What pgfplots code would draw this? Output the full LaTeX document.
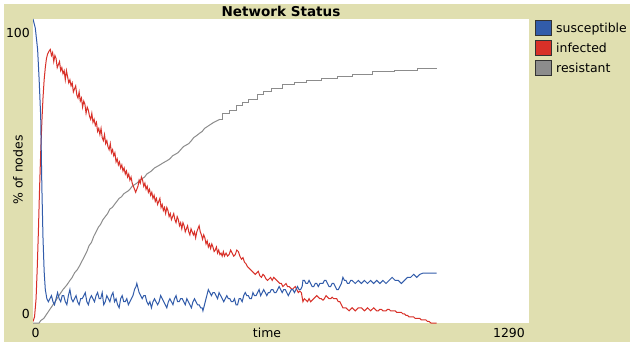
\documentclass[border=0pt]{standalone}
\usepackage{pgfplots}
\pgfplotsset{compat=1.18}
\usepackage{fontspec}
\setmainfont{DejaVu Sans}
\definecolor{bg}{RGB}{224,223,176}
\definecolor{sblue}{RGB}{50,92,170}
\definecolor{ired}{RGB}{216,48,40}
\definecolor{rgray}{RGB}{140,140,140}
\begin{document}
\begin{tikzpicture}[x=1bp,y=1bp]
\path[use as bounding box] (0,0) rectangle (630,342);
\fill[white] (0,0) rectangle (630,342);
\fill[bg] (4,0) rectangle (630,338);
\begin{axis}[at={(33bp,19bp)}, anchor=south west, scale only axis,
  width=496bp, height=304bp, xmin=0, xmax=1290, ymin=0, ymax=100,
  axis line style={draw=none}, ticks=none,
  axis background/.style={fill=white}]
\addplot[rgray, line width=1bp] coordinates {
(0,0) (16,0) (20,0.8) (28,1.5) (36,3) (44,4.5) (52,6) (60,7.5) (70,9.5) (78,11) (88,12.5) (96,14) (102,15) (108,16.5) (115,17.5) (122,19) (128,20.5) (134,22) (140,23.5) (146,25.5) (152,26.5) (158,28.5) (164,30) (170,31.5) (176,32.5) (182,34) (188,35) (194,36) (200,37.5) (206,38) (212,39) (218,40) (224,41) (230,41.5) (236,42.5) (242,43) (248,43.5) (252,44) (258,45) (264,45.5) (270,46) (278,47) (284,47.5) (290,48) (296,49) (302,49.5) (308,50) (316,51) (323,51.5) (330,52) (336,52.5) (343,53) (350,53.5) (356,54) (363,55) (370,55.5) (377,56) (384,57) (391,58) (398,58.5) (405,59) (412,60) (418,61) (424,61.5) (429,62) (434,62.5) (440,63) (446,64) (452,64.5) (458,65) (464,65.5) (470,66) (478,66.5) (486,67)
};
\addplot[rgray, line width=1bp, const plot] coordinates {
(486,67) (494,69) (510,70) (528,71.5) (546,72.5) (560,73.5) (583,75) (600,76) (620,77) (650,78.3) (680,79) (710,79.8) (750,80.4) (791,81) (830,81.8) (884,82.6) (940,83) (1000,83.6) (1050,83.6)
};
\addplot[ired, line width=1bp] coordinates {
(0,0.5) (4,2) (8,8) (11,18) (14,30) (17,44) (20,56) (23,66) (26,74) (29,80) (32,84) (35,87) (38,88.5) (42,89.5) (45,90) (48,88) (51,89) (54,86) (57,88) (60,87) (63,84) (66,85) (69,86) (72,83) (75,84) (78,82) (81,83) (84,80) (87,83) (90,81) (93,79) (96,80) (99,78) (102,79) (105,76) (108,77) (111,78) (114,75) (117,74) (120,76) (123,73) (126,74) (129,71) (132,73) (135,72) (138,69) (141,71) (144,70) (147,68) (150,67) (153,69) (156,66) (159,67) (162,65) (165,66) (168,63) (171,64) (174,62) (177,64) (180,61) (183,60) (186,62) (189,59) (192,60) (195,58) (198,57) (201,59) (204,56) (207,57) (210,55) (213,56) (216,53) (219,54) (222,52) (225,53) (228,51) (231,52) (234,50) (237,51) (240,49) (243,50) (246,48) (249,49) (252,47) (255,48) (258,46) (261,45) (264,44) (267,43) (270,44) (273,45) (276,47) (279,46) (282,48) (285,47) (288,45) (291,46) (294,44) (297,45) (300,43) (303,44) (306,42) (309,43) (312,41) (315,42) (318,40) (321,41) (324,39) (327,40) (330,41) (333,38) (336,39) (339,37) (342,38) (345,36) (348,38) (351,37) (354,35) (357,36) (360,34) (363,35) (366,36) (369,34) (372,33) (375,35) (378,34) (381,32) (384,33) (387,31) (390,33) (393,32) (396,30) (399,31) (402,32) (405,30) (408,29) (411,31) (414,30) (417,29) (420,30) (423,28) (426,30) (429,31) (432,32) (435,30) (438,29) (441,27.5) (444,29) (447,28) (450,26) (453,27) (456,25) (459,26) (462,24.5) (465,26) (468,25) (471,23.5) (474,24) (477,25) (480,23) (483,24) (486,22.5) (489,23) (492,22) (495,23.5) (498,22) (502,23) (506,22) (510,22.5) (514,24) (518,23) (522,22) (526,22.5) (530,24) (534,23.5) (538,22) (542,21) (546,21.5) (550,20) (554,19.5) (558,18.5) (562,18) (566,17.5) (570,17) (574,16.5) (578,16) (582,16.5) (586,17) (590,15.5) (594,15) (598,16) (602,15.5) (606,14.5) (610,14) (614,14.5) (618,15) (622,14) (626,15) (630,14.5) (634,14) (638,13.5) (642,13) (646,13) (650,12) (654,12.5) (658,13) (662,12) (666,12) (670,11.5) (674,11) (678,11.5) (682,12) (686,11) (690,10) (694,10.5) (698,10) (702,7) (706,8) (710,7.5) (714,7) (718,8) (722,7) (726,7.5) (730,8) (734,8.5) (738,9) (742,8.5) (746,8) (750,8) (754,7.5) (758,8) (762,9) (766,8.5) (770,8) (774,8) (778,8.5) (782,8) (786,8) (790,8) (794,7) (798,7) (802,6) (806,5) (810,5) (814,5) (818,4.5) (822,4) (826,4.5) (830,5) (834,4.5) (838,4) (842,4.5) (846,5) (850,5) (854,5) (858,4.5) (862,4) (866,4.5) (870,5) (874,4.5) (878,4) (882,4.5) (886,5) (890,4.5) (894,4) (898,4) (902,4.5) (906,4.5) (910,4) (914,4) (918,4) (922,4.5) (926,4.5) (930,4) (934,4) (938,4) (942,4) (946,3.5) (950,3.5) (954,3.5) (958,3.5) (962,3) (966,3) (970,2.5) (974,2.5) (978,2) (982,2) (986,2) (990,2) (994,1.5) (998,1.5) (1002,1.5) (1006,1.5) (1010,1) (1014,1) (1018,1) (1022,1) (1026,0.5) (1030,0.5) (1035,0) (1050,0)
};
\addplot[sblue, line width=1bp] coordinates {
(0,100) (6,97) (12,90) (16,80) (20,68) (23,45) (26,28) (29,17) (32,11) (36,8) (40,7) (44,8) (48,9) (52,7) (56,6) (60,8) (64,10) (68,8) (72,7) (76,9) (80,9) (84,7) (88,6) (92,9) (96,11) (100,8) (104,7) (108,8) (112,9) (116,7) (120,6) (124,8) (128,8) (132,9) (136,10) (140,7) (144,6) (148,8) (152,9) (156,8) (160,7) (164,9) (168,10) (172,8) (176,8) (180,10) (184,6) (188,7) (192,9) (196,8) (200,7) (204,9) (208,10) (212,7) (216,8) (220,6) (224,5) (228,8) (232,9) (236,7) (240,7) (244,8) (248,6) (252,7) (256,8) (260,9) (264,11) (268,12) (270,13) (274,11) (276,10) (280,9) (284,8) (288,9) (292,9) (296,7) (300,6) (304,7) (308,5) (312,7) (316,8) (320,7) (324,6) (328,7) (332,9) (336,8) (340,7) (344,6) (348,5) (352,7) (356,8) (360,7) (364,6) (368,8) (372,9) (376,7) (380,7) (384,8) (388,8) (392,7) (396,6) (400,8) (404,7) (408,6) (412,5) (416,7) (420,8) (424,7) (428,6) (432,6) (436,5) (440,5) (442,4) (446,6) (448,7) (452,9) (456,11) (460,10) (464,9) (468,10) (472,10) (476,9) (480,8) (484,10) (488,9) (492,8) (496,7) (500,8) (504,9) (508,8) (512,8) (516,7) (520,7) (524,8) (528,6) (532,6) (536,8) (540,8) (544,7) (548,9) (552,10) (556,9) (560,9) (564,8) (568,8) (572,10) (576,9) (580,9) (584,10) (588,11) (592,9) (596,10) (600,11) (604,10) (608,9) (612,10) (616,10) (620,11) (624,11) (628,10) (632,10) (636,11) (640,12) (644,11) (648,10) (652,11) (656,11) (660,10) (664,9) (668,10) (672,11) (676,11) (680,10) (684,11) (688,12) (692,11) (696,11) (700,12) (702,14) (706,14) (710,13) (714,13) (718,14) (722,13) (726,12) (730,12) (734,13) (738,13) (742,12) (746,13) (750,13) (754,13) (758,14) (762,14) (766,13) (770,12) (774,12) (778,13) (782,13) (786,12) (790,11) (794,11) (798,12) (802,13) (806,15) (810,14) (814,14) (818,13) (822,13) (826,14) (830,14) (838,13) (846,14) (854,13) (862,14) (870,13) (878,14) (886,13) (894,14) (902,13) (910,14) (918,13) (926,14) (934,15) (942,14) (950,14) (958,13) (966,14) (974,15) (982,15) (990,16) (998,15) (1006,16) (1014,16.4) (1050,16.4)
};
\end{axis}
% title
\node[inner sep=0, anchor=base, font=\fontsize{13.6}{16}\selectfont\bfseries] at (281,326) {Network Status};
% y ticks
\node[inner sep=0, anchor=base east, font=\fontsize{12.5}{15}\selectfont] at (30,304.5) {100};
\node[inner sep=0, anchor=base east, font=\fontsize{12.5}{15}\selectfont] at (30,23.5) {0};
% x ticks
\node[inner sep=0, anchor=base, font=\fontsize{12.5}{15}\selectfont] at (35.5,5) {0};
\node[inner sep=0, anchor=base east, font=\fontsize{12.5}{15}\selectfont] at (525,5) {1290};
\node[inner sep=0, anchor=base, font=\fontsize{12.5}{15}\selectfont] at (267,5) {time};
% y label
\node[inner sep=0, rotate=90, font=\fontsize{12.5}{15}\selectfont] at (18,172) {\% of nodes};
% legend
\draw[fill=sblue, draw=black!80, line width=1bp] (535.5,306.5) rectangle (551.5,321.5);
\draw[fill=ired, draw=black!80, line width=1bp] (535.5,286.5) rectangle (551.5,301.5);
\draw[fill=rgray, draw=black!80, line width=1bp] (535.5,266.5) rectangle (551.5,281.5);
\node[inner sep=0, anchor=base west, font=\fontsize{12.5}{15}\selectfont] at (556,309.5) {susceptible};
\node[inner sep=0, anchor=base west, font=\fontsize{12.5}{15}\selectfont] at (556,289.5) {infected};
\node[inner sep=0, anchor=base west, font=\fontsize{12.5}{15}\selectfont] at (556,269.5) {resistant};
\end{tikzpicture}
\end{document}
